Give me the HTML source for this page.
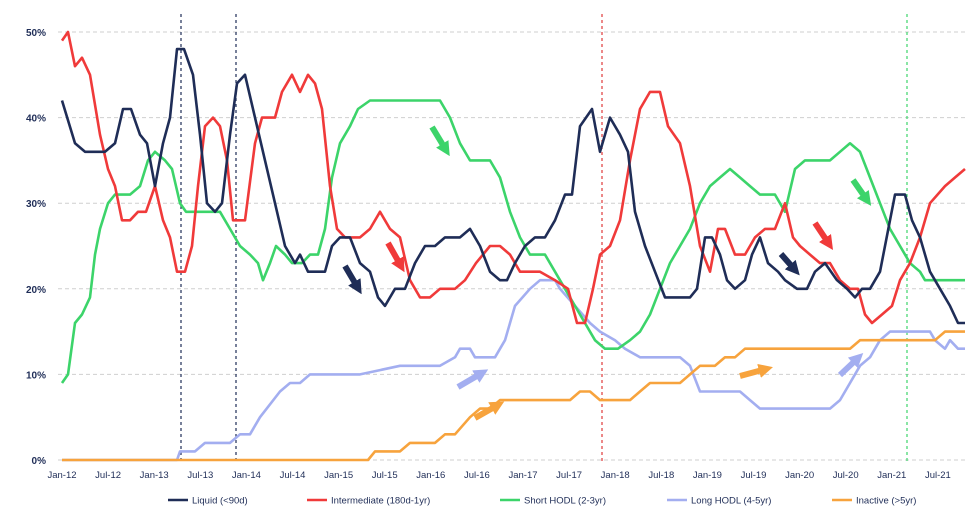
<!DOCTYPE html>
<html><head><meta charset="utf-8"><style>
body{margin:0;background:#fff;}
svg{display:block;font-family:"Liberation Sans",sans-serif;}
</style></head><body>
<svg id="c" width="980" height="525" xmlns="http://www.w3.org/2000/svg">
<defs>
<marker id="ah" viewBox="0 0 10 10" refX="5" refY="5" markerWidth="2.4" markerHeight="2.4" orient="auto"><path d="M0,0 L10,5 L0,10 z" fill="context-stroke"/></marker>
</defs>
<g id="grid" stroke="#cfcfcf" stroke-dasharray="4,3" stroke-width="1"></g>
<g id="ylab" font-size="10" fill="#1f2d57" text-anchor="end" font-weight="bold"></g>
<g id="xlab" font-size="9.5" fill="#1f2d57" text-anchor="middle"></g>
<g id="vl" stroke-width="1.2" stroke-dasharray="3,3"></g>
<g id="series" fill="none" stroke-width="2.6" stroke-linejoin="round"></g>
<g id="arrows" stroke-width="6"></g>
<g id="legend" font-size="9.5" fill="#1f2d57"></g>
</svg>
<script>
const NS="http://www.w3.org/2000/svg";
function el(p,t,a,txt){const e=document.createElementNS(NS,t);for(const k in a)e.setAttribute(k,a[k]);if(txt)e.textContent=txt;document.getElementById(p).appendChild(e);return e;}
const Y=v=>460-8.56*v;
for(let v=0;v<=50;v+=10){el('grid','line',{x1:58,x2:968,y1:Y(v),y2:Y(v)});el('ylab','text',{x:46,y:Y(v)+4},v+'%');}
const xl=["Jan-12","Jul-12","Jan-13","Jul-13","Jan-14","Jul-14","Jan-15","Jul-15","Jan-16","Jul-16","Jan-17","Jul-17","Jan-18","Jul-18","Jan-19","Jul-19","Jan-20","Jul-20","Jan-21","Jul-21"];
xl.forEach((t,i)=>el('xlab','text',{x:62+i*46.1,y:478},t));
[[181,'#1f2d57'],[236,'#1f2d57'],[602,'#e03a3a'],[907,'#3cd46a']].forEach(([x,c])=>el('vl','line',{x1:x,x2:x,y1:14,y2:462,stroke:c}));
const S={
"#a3aef0":[62,0,177,0,180,1,195,1,205,2,230,2,240,3,250,3,260,5,280,8,290,9,300,9,310,10,360,10,380,10.5,400,11,425,11,440,11,455,12,460,13,470,13,475,12,495,12,505,14,515,18,530,20,540,21,555,21,560,20,575,18,590,16,600,15,615,14,625,13,640,12,680,12,690,11,700,8,740,8,750,7,760,6,830,6,840,7,850,9,860,11,870,12,880,14,890,15,930,15,935,14,945,13,950,14,958,13,965,13],
"#f7a33d":[62,0,368,0,375,1,400,1,410,2,435,2,445,3,455,3,470,5,480,6,490,6,500,7,570,7,580,8,590,8,600,7,630,7,640,8,650,9,680,9,690,10,700,11,715,11,725,12,735,12,745,13,850,13,860,14,935,14,945,15,965,15],
"#3cd46a":[62,9,68,10,75,16,82,17,90,19,95,24,100,27,108,30,115,31,130,31,140,32,148,35,155,36,165,35,172,34,180,30,186,29,220,29,230,27,240,25,250,24,258,23,263,21,270,23,276,25,285,24,292,23,302,23,310,24,318,24,325,27,332,33,340,37,350,39,358,41,370,42,440,42,450,40,460,37,470,35,490,35,500,33,510,29,520,26,530,24,545,24,555,22,565,20,580,17,595,14,605,13,618,13,630,14,640,15,650,17,660,20,670,23,680,25,690,27,700,30,710,32,720,33,730,34,740,33,750,32,760,31,775,31,785,29,795,34,805,35,830,35,840,36,850,37,860,36,870,33,880,30,890,27,900,25,910,23,920,22,925,21,965,21],
"#f03a3a":[62,49,68,50,75,46,82,47,90,45,100,38,108,34,115,32,122,28,130,28,138,29,146,29,155,32,163,28,170,26,177,22,185,22,192,25,198,32,205,39,213,40,220,39,227,35,233,28,245,28,255,37,262,40,275,40,282,43,292,45,300,43,308,45,315,44,322,41,330,32,337,27,345,26,360,26,370,27,380,29,390,27,400,26,410,21,420,19,430,19,440,20,455,20,465,21,476,23,490,25,500,25,510,24,520,22,540,22,555,21,568,20,577,16,585,16,593,20,600,24,610,25,620,28,630,35,640,41,650,43,660,43,668,39,680,37,690,32,700,25,710,22,718,27,725,27,735,24,745,24,755,26,765,27,775,27,785,30,793,26,800,25,810,24,820,23,830,23,840,21,850,20,858,20,865,17,872,16,882,17,892,18,900,21,910,23,920,26,930,30,945,32,955,33,965,34],
"#1f2d57":[62,42,75,37,85,36,105,36,115,37,123,41,131,41,140,38,147,37,155,32,163,37,170,40,177,48,184,48,193,45,200,38,207,30,215,29,222,30,230,38,237,44,245,45,255,40,265,35,275,30,285,25,295,23,300,24,308,22,325,22,332,25,340,26,350,26,360,23,370,22,378,19,385,18,395,20,405,20,415,23,425,25,435,25,445,26,460,26,470,27,480,25,490,22,500,21,507,21,515,23,525,25,535,26,545,26,555,28,565,31,572,31,580,39,592,41,600,36,610,40,620,38,628,36,635,29,645,25,655,22,665,19,690,19,697,20,705,26,712,26,720,24,727,21,735,20,745,21,752,24,760,26,768,23,778,22,785,21,797,20,807,20,815,22,825,23,837,21,847,20,855,19,862,20,870,20,880,22,890,28,895,31,905,31,912,28,920,26,930,22,940,20,950,18,958,16,965,16]
};
for(const c in S){const d=S[c];let p=[];for(let i=0;i<d.length;i+=2)p.push(d[i]+','+Y(d[i+1]).toFixed(1));el('series','polyline',{points:p.join(' '),stroke:c});}
const A=[[432,127,446,150,'#3cd46a'],[345,266,358,288,'#1f2d57'],[388,243,401,266,'#f03a3a'],[781,254,795,270,'#1f2d57'],[815,223,829,244,'#f03a3a'],[853,180,867,200,'#3cd46a'],[458,387,482,373,'#a3aef0'],[475,418,498,405,'#f7a33d'],[740,376,766,369,'#f7a33d'],[840,375,858,358,'#a3aef0']];
A.forEach(([a,b,c,d,col])=>el('arrows','line',{x1:a,y1:b,x2:c,y2:d,stroke:col,'marker-end':'url(#ah)'}));
[[168,'#1f2d57','Liquid (<90d)'],[307,'#f03a3a','Intermediate (180d-1yr)'],[500,'#3cd46a','Short HODL (2-3yr)'],[667,'#a3aef0','Long HODL (4-5yr)'],[832,'#f7a33d','Inactive (>5yr)']].forEach(([x,c,t])=>{el('legend','line',{x1:x,x2:x+20,y1:500,y2:500,stroke:c,'stroke-width':2.5});el('legend','text',{x:x+24,y:503.5},t);});
</script>
</body></html>
